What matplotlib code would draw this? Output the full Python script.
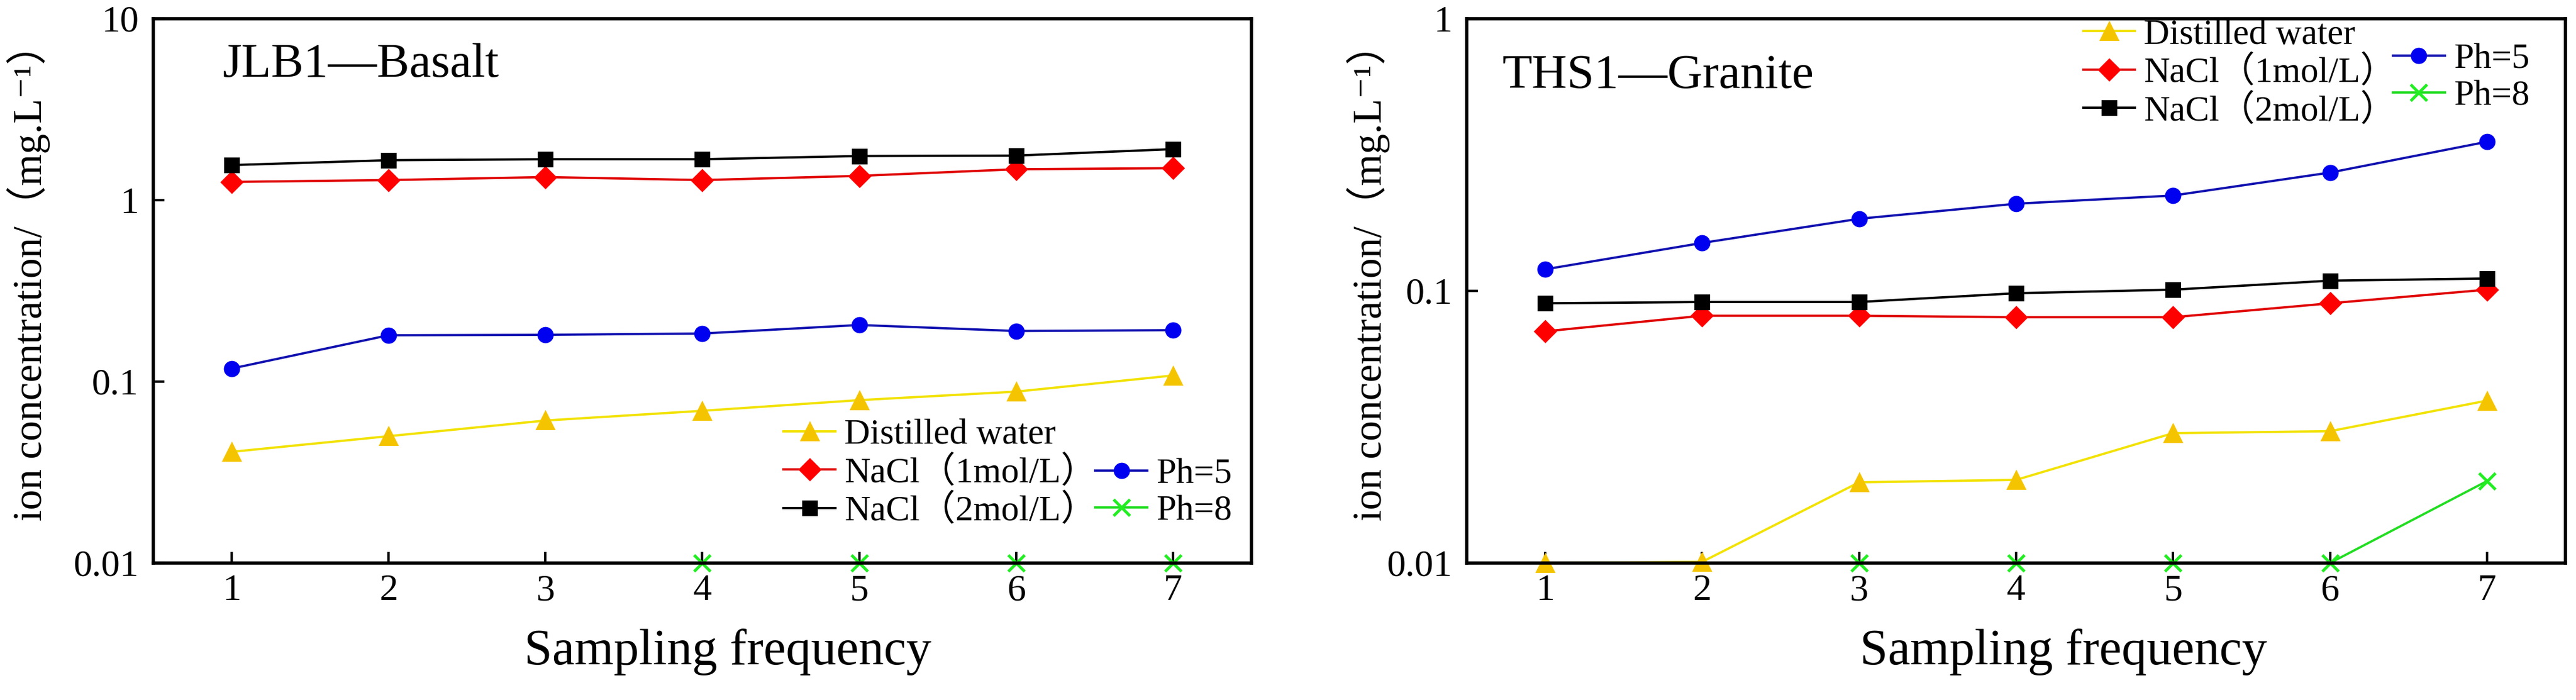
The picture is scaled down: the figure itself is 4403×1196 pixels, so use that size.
import numpy as np
import matplotlib
matplotlib.use("Agg")
import matplotlib.pyplot as plt

plt.rcParams['font.family'] = ['Liberation Serif', 'DejaVu Serif', 'Noto Sans CJK SC']

sampling = [1, 2, 3, 4, 5, 6, 7]
labels = ['Distilled water', 'NaCl（1mol/L）', 'NaCl（2mol/L）', 'Ph=5', 'Ph=8']

# JLB1 - Basalt
basalt_water = [0.041, 0.050, 0.061, 0.069, 0.079, 0.088, 0.108]
basalt_nacl1 = [1.26, 1.29, 1.34, 1.29, 1.36, 1.48, 1.50]
basalt_nacl2 = [1.56, 1.66, 1.68, 1.68, 1.75, 1.76, 1.91]
basalt_ph5 = [0.118, 0.180, 0.181, 0.184, 0.205, 0.190, 0.192]
basalt_ph8 = [np.nan, np.nan, np.nan, 0.01, 0.01, 0.01, 0.01]

# THS1 - Granite
granite_water = [0.0100, 0.0101, 0.0198, 0.0202, 0.0300, 0.0305, 0.0395]
granite_nacl1 = [0.071, 0.081, 0.081, 0.080, 0.080, 0.090, 0.101]
granite_nacl2 = [0.090, 0.091, 0.091, 0.098, 0.101, 0.109, 0.111]
granite_ph5 = [0.120, 0.150, 0.184, 0.209, 0.224, 0.272, 0.353]
granite_ph8 = [np.nan, np.nan, 0.01, 0.01, 0.01, 0.01, 0.02]

styles = [
    dict(color='#F2E200', marker='^', mfc='#F5C400', mec='#F5C400', ms=11),
    dict(color='#E00000', marker='D', mfc='#FF0000', mec='#FF0000', ms=9),
    dict(color='#000000', marker='s', mfc='#000000', mec='#000000', ms=8.5),
    dict(color='#1010B0', marker='o', mfc='#0000F0', mec='#0000F0', ms=9),
    dict(color='#22DD22', marker='x', mfc='#22EE22', mec='#22EE22', ms=10, mew=1.8),
]


def draw_panel(ax, series, title, title_pos, ylim, yticks, ytick_labels,
               leg1_pos, leg2_pos, ylabel_x, xlabel_x):
    lines = []
    for vals, lab, st in zip(series, labels, styles):
        ln, = ax.plot(sampling, vals, lw=1.4, label=lab, clip_on=False, **st)
        lines.append(ln)
    ax.set_yscale('log')
    ax.set_ylim(*ylim)
    ax.set_xlim(0.5, 7.5)
    ax.set_xticks(sampling)
    ax.set_yticks(yticks)
    ax.set_yticklabels(ytick_labels)
    ax.yaxis.set_minor_locator(matplotlib.ticker.NullLocator())
    ax.tick_params(direction='in', length=7, width=1.5, labelsize=23,
                   top=False, right=False)
    ax.tick_params(axis='x', pad=7)
    ax.tick_params(axis='y', pad=9)
    for sp in ax.spines.values():
        sp.set_linewidth(2)
    ax.set_xlabel('Sampling frequency', fontsize=31)
    ax.set_ylabel('ion concentration/（mg.L⁻¹）', fontsize=25)
    ax.yaxis.set_label_coords(ylabel_x, 0.534)
    ax.xaxis.set_label_coords(xlabel_x, -0.12)
    ax.text(title_pos[0], title_pos[1], title, transform=ax.transAxes,
            fontsize=30, va='center', ha='left')

    kw = dict(frameon=False, fontsize=22, handlelength=1.45, handletextpad=0.25,
              labelspacing=0.12, borderpad=0, borderaxespad=0, loc='upper left')
    leg1 = ax.legend(handles=lines[:3], bbox_to_anchor=leg1_pos, **kw)
    ax.add_artist(leg1)
    ax.legend(handles=lines[3:], bbox_to_anchor=leg2_pos, **kw)


fig = plt.figure(figsize=(22.015, 5.98), dpi=200)
ax1 = fig.add_axes([0.0595, 0.1957, 0.4263, 0.7776])
ax2 = fig.add_axes([0.5694, 0.1957, 0.4265, 0.7776])

draw_panel(ax1, [basalt_water, basalt_nacl1, basalt_nacl2, basalt_ph5, basalt_ph8],
           'JLB1—Basalt', (0.063, 0.915), (0.01, 10),
           [0.01, 0.1, 1, 10], ['0.01', '0.1', '1', '10'],
           (0.574, 0.265), (0.858, 0.193), -0.094, 0.523)

draw_panel(ax2, [granite_water, granite_nacl1, granite_nacl2, granite_ph5, granite_ph8],
           'THS1—Granite', (0.032, 0.895), (0.01, 1),
           [0.01, 0.1, 1], ['0.01', '0.1', '1'],
           (0.561, 1.0), (0.843, 0.955), -0.070, 0.543)

fig.savefig('out.png', dpi=200)
